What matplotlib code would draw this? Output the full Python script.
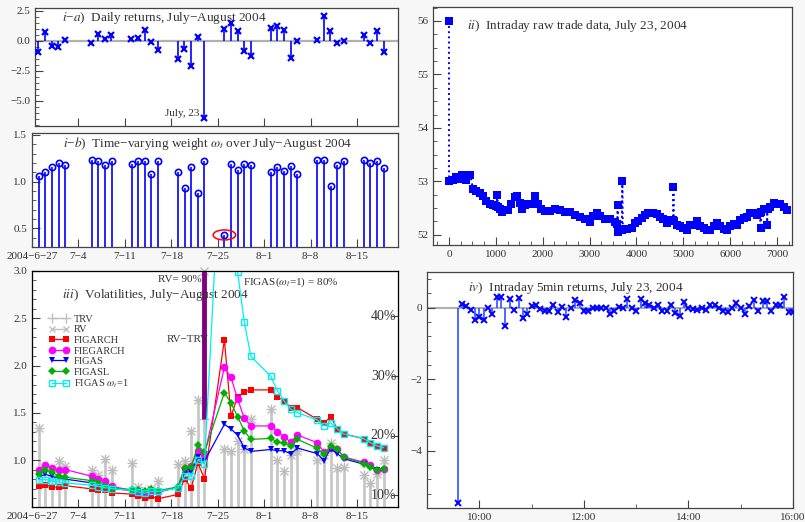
import numpy as np
import pandas as pd
import matplotlib
matplotlib.use("Agg")
import matplotlib.pyplot as plt
import matplotlib.dates as mdates
import matplotlib.transforms as mtrans
from matplotlib.ticker import FuncFormatter, MultipleLocator, FixedLocator, NullFormatter
from matplotlib.patches import Ellipse
from matplotlib.lines import Line2D

plt.rcParams['font.family'] = ['Liberation Serif', 'DejaVu Serif']
plt.rcParams['mathtext.fontset'] = 'stix'
plt.rcParams['axes.unicode_minus'] = True

# ---------------- data ----------------
trade_days = ["2004-06-28", "2004-06-29", "2004-06-30", "2004-07-01", "2004-07-02",
              "2004-07-06", "2004-07-07", "2004-07-08", "2004-07-09",
              "2004-07-12", "2004-07-13", "2004-07-14", "2004-07-15", "2004-07-16",
              "2004-07-19", "2004-07-20", "2004-07-21", "2004-07-22", "2004-07-23",
              "2004-07-26", "2004-07-27", "2004-07-28", "2004-07-29", "2004-07-30",
              "2004-08-02", "2004-08-03", "2004-08-04", "2004-08-05", "2004-08-06",
              "2004-08-09", "2004-08-10", "2004-08-11", "2004-08-12", "2004-08-13",
              "2004-08-16", "2004-08-17", "2004-08-18", "2004-08-19"]

daily_returns = [-0.97, 0.75, -0.42, -0.56, 0.06,
                 -0.17, 0.53, 0.14, 0.50,
                 0.11, 0.19, 0.86, -0.14, -0.78,
                 -1.50, -0.72, -2.11, 0.31, -6.47,
                 0.94, 1.44, 0.83, -0.83, -1.25,
                 1.03, 1.25, 0.89, -1.42, -0.03,
                 0.08, 2.06, 0.83, -0.17, 0.00,
                 0.47, -0.22, 0.83, -0.97]

weights = [1.062, 1.098, 1.158, 1.197, 1.176,
           1.226, 1.222, 1.176, 1.222,
           1.183, 1.222, 1.215, 1.077, 1.222,
           1.098, 0.927, 1.158, 0.874, 1.215,
           0.429, 1.183, 1.123, 1.183, 1.173,
           1.105, 1.151, 1.116, 1.165, 1.077,
           1.226, 1.226, 0.948, 1.173, 1.222,
           1.226, 1.201, 1.215, 1.148]

trv = [1.343, 0.75, 0.80, 0.99, 0.936,
       0.90, 0.848, 1.014, 0.90,
       0.965, 0.72, 0.62, 0.70, 0.777,
       0.958, 0.99, 1.308, 1.64, 1.432,
       1.113, 1.095, 1.20, 1.12, 1.432,
       1.538, 1.00, 0.883, 1.05, 1.10,
       1.00, 1.05, 1.184, 0.918, 0.928,
       0.848, 0.76, 0.85, 1.007]

rv = [1.343, 0.75, 0.80, 0.99, 0.936,
      0.90, 0.848, 1.014, 0.90,
      0.965, 0.72, 0.62, 0.70, 0.777,
      0.958, 0.99, 1.308, 1.64, 5.67,
      1.113, 1.095, 1.20, 1.12, 1.432,
      1.538, 1.00, 0.883, 1.05, 1.10,
      1.00, 1.05, 1.184, 0.918, 0.928,
      0.848, 0.76, 0.85, 1.007]

figarch = [0.731, 0.742, 0.714, 0.717, 0.731,
           0.696, 0.681, 0.681, 0.653,
           0.642, 0.617, 0.599, 0.617, 0.592,
           0.638, 0.80, 0.706, 0.97, 0.802,
           2.274, 1.467, 1.669, 1.722, 1.743,
           1.743, 1.669, 1.627, 1.556, 1.556,
           1.432, 1.39, 1.46, 1.333, 1.277,
           1.228, 1.185, 1.139, 1.121]

fiegarch = [0.901, 0.954, 0.919, 0.901, 0.901,
            0.83, 0.802, 0.778, 0.724,
            0.681, 0.67, 0.653, 0.67, 0.66,
            0.714, 0.92, 0.94, 1.10, 1.06,
            1.981, 1.875, 1.644, 1.443, 1.362,
            1.362, 1.302, 1.245, 1.192, 1.266,
            1.185, 1.086, 1.125, 1.114, 1.033,
            0.98, 0.944, 0.901, 0.908]

figas = [0.82, 0.85, 0.83, 0.81, 0.80,
         0.76, 0.74, 0.72, 0.70,
         0.68, 0.67, 0.66, 0.68, 0.67,
         0.71, 0.87, 0.88, 1.03, 0.99,
         1.379, 1.33, 1.263, 1.13, 1.093,
         1.113, 1.10, 1.10, 1.066, 1.128,
         1.07, 0.993, 1.12, 1.07, 1.015,
         0.958, 0.92, 0.895, 0.90]

figasl = [0.858, 0.894, 0.872, 0.837, 0.819,
          0.784, 0.76, 0.731, 0.706,
          0.689, 0.681, 0.67, 0.699, 0.678,
          0.717, 0.919, 0.93, 1.157, 1.086,
          1.715, 1.602, 1.46, 1.309, 1.22,
          1.23, 1.192, 1.178, 1.146, 1.22,
          1.127, 1.064, 1.145, 1.114, 1.035,
          0.963, 0.93, 0.895, 0.905]

figas_w1 = [0.795, 0.795, 0.781, 0.767, 0.76,
            0.735, 0.721, 0.71, 0.70,
            0.681, 0.664, 0.653, 0.67, 0.67,
            0.706, 0.83, 0.83, 1.0, 0.961,
            5.04, 4.0, 2.985, 2.458, 2.097,
            1.885, 1.733, 1.627, 1.539, 1.503,
            1.425, 1.362, 1.397, 1.333, 1.277,
            1.228, 1.185, 1.15, 1.132]

vol_pct_ticks = [10, 20, 30, 40]

trade_no = [0, 2, 86, 143, 228, 285, 371, 456, 513, 584, 656, 727, 798, 870, 941, 1012,
            1035, 1040, 1084, 1134, 1191, 1262, 1334, 1405, 1455, 1512, 1562, 1619, 1690,
            1761, 1833, 1904, 1975, 2047, 2154, 2261, 2368, 2475, 2582, 2689, 2796, 2903,
            3010, 3081, 3152, 3224, 3331, 3438, 3544, 3590, 3600, 3610, 3650, 3690, 3700,
            3710, 3793, 3900, 3971, 4042, 4114, 4185, 4256, 4363, 4434, 4506, 4577, 4648,
            4719, 4780, 4791, 4800, 4862, 4933, 5004, 5076, 5147, 5218, 5290, 5361, 5432,
            5503, 5575, 5646, 5717, 5789, 5860, 5931, 6002, 6073, 6145, 6216, 6287, 6358,
            6430, 6501, 6572, 6640, 6650, 6660, 6715, 6780, 6790, 6800, 6857, 6929, 7000,
            7071, 7143, 7214]
trade_price = [56.00, 53.00, 53.02, 53.09, 53.04, 53.12, 53.02, 53.12, 52.86, 52.82, 52.79,
               52.73, 52.64, 52.58, 52.55, 52.53, 52.74, 52.52, 52.49, 52.43, 52.46, 52.46,
               52.58, 52.70, 52.73, 52.60, 52.48, 52.55, 52.58, 52.58, 52.73, 52.58, 52.49,
               52.44, 52.44, 52.49, 52.46, 52.43, 52.43, 52.38, 52.34, 52.29, 52.24, 52.35,
               52.40, 52.35, 52.30, 52.29, 52.24, 52.20, 52.56, 52.06, 52.09, 52.09, 53.00,
               52.10, 52.10, 52.12, 52.22, 52.25, 52.31, 52.37, 52.40, 52.41, 52.39, 52.34,
               52.29, 52.22, 52.27, 52.27, 52.89, 52.26, 52.19, 52.16, 52.13, 52.09, 52.19,
               52.19, 52.25, 52.16, 52.13, 52.09, 52.09, 52.16, 52.22, 52.16, 52.10, 52.09,
               52.17, 52.21, 52.19, 52.28, 52.31, 52.34, 52.40, 52.40, 52.37, 52.40, 52.13,
               52.42, 52.49, 52.49, 52.19, 52.49, 52.52, 52.60, 52.58, 52.58, 52.52, 52.47]

ret5_start = "2004-07-23 09:35"
ret5 = [-5.45, 0.10, 0.05, -0.05, -0.35, -0.25, -0.35, -0.02, -0.18, 0.30,
        0.30, -0.50, 0.25, -0.05, 0.28, -0.30, -0.18, 0.05, 0.08, -0.03,
        -0.08, -0.08, 0.08, -0.12, 0.02, -0.25, 0.00, 0.22, 0.12, -0.08,
        -0.08, 0.00, 0.00, 0.00, 0.00, -0.18, -0.10, 0.02, 0.00, 0.25,
        0.00, -0.08, 0.25, 0.12, 0.08, 0.00, 0.08, -0.10, -0.10, 0.08,
        -0.15, -0.22, 0.15, 0.00, -0.03, -0.05, 0.00, -0.05, 0.08, 0.08,
        0.00, -0.08, -0.12, 0.00, 0.12, 0.00, -0.18, 0.05, 0.22, -0.08,
        0.20, 0.18, -0.08, 0.08, 0.08, 0.30, -0.12, -0.12]

# ---------------- figure ----------------
W, H = 805, 522
fig = plt.figure(figsize=(W / 100, H / 100), dpi=100, facecolor='#f7f7f7')


def box(l, t, r, b):
    return [l / W, 1 - b / H, (r - l) / W, (b - t) / H]


TXT = '#333333'


def style(ax):
    ax.set_facecolor('white')
    for s in ax.spines.values():
        s.set_color('#444444')
        s.set_linewidth(0.9)
    ax.tick_params(which='major', direction='in', length=6, width=0.8,
                   color='#444444', labelcolor=TXT, labelsize=8)
    ax.tick_params(which='minor', direction='in', length=3, width=0.6, color='#444444')


def minus_fmt(fmt):
    return FuncFormatter(lambda v, p: (fmt % v).replace('-', '\u2212'))


MINUS = '\u2212'
x = mdates.date2num(pd.to_datetime(trade_days))
weeks = pd.date_range("2004-06-27", "2004-08-15", freq="7D")
week_num = mdates.date2num(weeks)
week_lbl = [("%d%s%d%s%d" % (d.year, MINUS, d.month, MINUS, d.day)) if i == 0
            else ("%d%s%d" % (d.month, MINUS, d.day)) for i, d in enumerate(weeks)]
xr = mdates.date2num(pd.Timestamp("2004-08-21 04:00"))
xl0 = mdates.date2num(pd.Timestamp("2004-06-27 00:00"))
xl_a = mdates.date2num(pd.Timestamp("2004-06-27 12:00"))
BLUE = '#0000ff'
d0723 = x[trade_days.index("2004-07-23")]
d0726 = x[trade_days.index("2004-07-26")]

# ---- i-a ----
axa = fig.add_axes(box(35, 8, 398, 126))
style(axa)
axa.set_xlim(xl_a, xr)
axa.set_ylim(-7.1, 2.72)
axa.axhline(0, color='#b0b0b0', lw=1.6, zorder=1)
axa.vlines(x, 0, daily_returns, color=BLUE, lw=1.2, zorder=2)
axa.plot(x, daily_returns, 'x', color=BLUE, ms=4, mew=1.6, zorder=3)
axa.xaxis.set_major_locator(FixedLocator(week_num))
axa.xaxis.set_major_formatter(NullFormatter())
axa.yaxis.set_major_locator(MultipleLocator(2.5))
axa.yaxis.set_minor_locator(MultipleLocator(0.5))
axa.yaxis.set_major_formatter(minus_fmt('%.1f'))
axa.text(0.074, 0.915, r"$i$" + MINUS + r"$a$)  Daily returns, July" + MINUS + "August 2004",
         transform=axa.transAxes, fontsize=9.5, color=TXT, va='center', ha='left')
axa.text(d0723 - 0.7, -6.03, "July, 23", fontsize=8, color=TXT, ha='right', va='center')

# ---- i-b ----
axb = fig.add_axes(box(32, 133, 398, 247))
style(axb)
axb.set_xlim(xl0, xr)
axb.set_ylim(0.3, 1.52)
axb.vlines(x, 0, weights, color=BLUE, lw=1.2, zorder=2)
axb.plot(x, weights, 'o', mfc='none', mec=BLUE, ms=4.5, mew=1.2, zorder=3)
axb.add_patch(Ellipse((d0726, weights[trade_days.index("2004-07-26")]), 3.4, 0.107,
                      fill=False, ec='#ff0000', lw=1.1, zorder=4))
axb.xaxis.set_major_locator(FixedLocator(week_num))
axb.set_xticklabels(week_lbl)
axb.yaxis.set_major_locator(MultipleLocator(0.5))
axb.yaxis.set_minor_locator(MultipleLocator(0.1))
axb.yaxis.set_major_formatter(minus_fmt('%.1f'))
axb.text(0.085, 0.904, r"$i$" + MINUS + r"$b$)  Time" + MINUS + r"varying weight $\omega_t$ over July"
         + MINUS + "August 2004",
         transform=axb.transAxes, fontsize=9.5, color=TXT, va='center', ha='left')

# ---- iii ----
ax3 = fig.add_axes(box(32, 271, 398, 507))
style(ax3)
ax3.set_xlim(xl0, xr)
ax3.set_ylim(0.505, 3.0)
GRAY = '#c8c8c8'
ax3.vlines(x, 0, trv, color=GRAY, lw=2.0, zorder=1)
ax3.plot(x, np.minimum(rv, 3.0), 'x', color='#bcbcbc', ms=5.5, mew=1.0, zorder=2, clip_on=False)
ax3.plot(x, trv, '+', color='#bcbcbc', ms=7, mew=1.0, zorder=2)
ax3.vlines(d0723, trv[trade_days.index("2004-07-23")], 3.0, color='#800080', lw=3.5, zorder=3)
l1, = ax3.plot(x, figarch, '-s', color='#ff0000', lw=0.9, ms=4.5, mew=0, zorder=4)
l2, = ax3.plot(x, fiegarch, '-o', color='#ff00ff', lw=0.9, ms=5.5, mew=0, zorder=5)
l3, = ax3.plot(x, figas, '-v', color=BLUE, lw=0.9, ms=5, mew=0, zorder=6)
l4, = ax3.plot(x, figasl, '-D', color='#00b000', lw=0.9, ms=3.8, mew=0, zorder=7)
l5, = ax3.plot(x, figas_w1, '-s', color='#00f0f0', lw=0.9, ms=5, mfc='none', mew=1.0, zorder=8)
h_trv = Line2D([], [], color='#c0c0c0', lw=1.0, marker='+', ms=7, mew=1.0)
h_rv = Line2D([], [], color='#c0c0c0', lw=1.0, marker='x', ms=5, mew=1.0)
ax3.legend([h_trv, h_rv, l1, l2, l3, l4, l5],
           ["TRV", "RV", "FIGARCH", "FIEGARCH", "FIGAS", "FIGASL", r"FIGAS $\omega_t$=1"],
           loc='upper left', bbox_to_anchor=(0.046, 0.815), frameon=False, fontsize=7.5,
           numpoints=2, handlelength=1.9, handletextpad=0.5, labelspacing=0.12,
           borderpad=0, borderaxespad=0, labelcolor=TXT)
ax3.xaxis.set_major_locator(FixedLocator(week_num))
ax3.set_xticklabels(week_lbl)
ax3.yaxis.set_major_locator(MultipleLocator(0.5))
ax3.yaxis.set_minor_locator(MultipleLocator(0.1))
ax3.yaxis.set_major_formatter(minus_fmt('%.1f'))
ax3.text(0.082, 0.898, r"$iii$)  Volatilities, July" + MINUS + "August 2004",
         transform=ax3.transAxes, fontsize=9.5, color=TXT, va='center', ha='left')
ax3.text(0.344, 0.962, "RV= 90%", transform=ax3.transAxes, fontsize=8, color=TXT, va='center')
ax3.text(0.369, 0.708, "RV" + MINUS + "TRV", transform=ax3.transAxes, fontsize=8, color=TXT,
         va='center')
ax3.text(0.577, 0.953, r"FIGAS($\omega_t$=1) = 80%", transform=ax3.transAxes, fontsize=8,
         color=TXT, va='center')
pct_y = np.array(vol_pct_ticks) / np.sqrt(252)
ax3r = ax3.twinx()
ax3r.set_ylim(0.505, 3.0)
ax3r.set_yticks(pct_y)
ax3r.set_yticklabels([])
ax3r.tick_params(direction='in', length=5, width=0.8, color='#444444')
trans = mtrans.blended_transform_factory(ax3.transAxes, ax3.transData)
for p, yv in zip(vol_pct_ticks, pct_y):
    ax3.text(0.995, yv, "%d%%" % p, transform=trans, ha='right', va='center', fontsize=10,
             color=TXT, zorder=9)

# ---- ii ----
ax2 = fig.add_axes(box(433, 7, 792, 245))
style(ax2)
ax2.plot(trade_no, trade_price, ls=':', color=BLUE, lw=1.4, marker='s', ms=5.2, mew=0)
ax2.set_xlim(-340, 7320)
ax2.set_ylim(51.81, 56.26)
ax2.xaxis.set_major_locator(MultipleLocator(1000))
ax2.xaxis.set_minor_locator(MultipleLocator(250))
ax2.yaxis.set_major_locator(MultipleLocator(1))
ax2.yaxis.set_minor_locator(MultipleLocator(0.25))
ax2.text(0.095, 0.92, r"$ii$)  Intraday raw trade data, July 23, 2004",
         transform=ax2.transAxes, fontsize=9.5, color=TXT, va='center', ha='left')

# ---- iv ----
ax4 = fig.add_axes(box(427, 272, 793, 508))
style(ax4)
t5 = mdates.date2num(pd.date_range(ret5_start, periods=len(ret5), freq="5min"))
ax4.axhline(0, color='#b0b0b0', lw=1.5, zorder=1)
ax4.vlines(t5, 0, ret5, color='#3050ff', lw=1.2, zorder=2)
ax4.plot(t5, ret5, 'x', color=BLUE, ms=4, mew=1.4, zorder=3)
ax4.set_xlim(mdates.date2num(pd.Timestamp("2004-07-23 09:00")),
             mdates.date2num(pd.Timestamp("2004-07-23 16:00")))
ax4.set_ylim(-5.6, 1.0)
ax4.xaxis.set_major_locator(mdates.HourLocator(byhour=[10, 12, 14, 16]))
ax4.xaxis.set_minor_locator(mdates.HourLocator())
ax4.xaxis.set_major_formatter(mdates.DateFormatter('%H:%M'))
ax4.yaxis.set_major_locator(MultipleLocator(2))
ax4.yaxis.set_minor_locator(MultipleLocator(0.4))
ax4.yaxis.set_major_formatter(minus_fmt('%d'))
ax4.text(0.112, 0.932, r"$iv$)  Intraday 5min returns, July 23, 2004",
         transform=ax4.transAxes, fontsize=9.5, color=TXT, va='center', ha='left')

fig.savefig("out.png", dpi=100, facecolor=fig.get_facecolor())
